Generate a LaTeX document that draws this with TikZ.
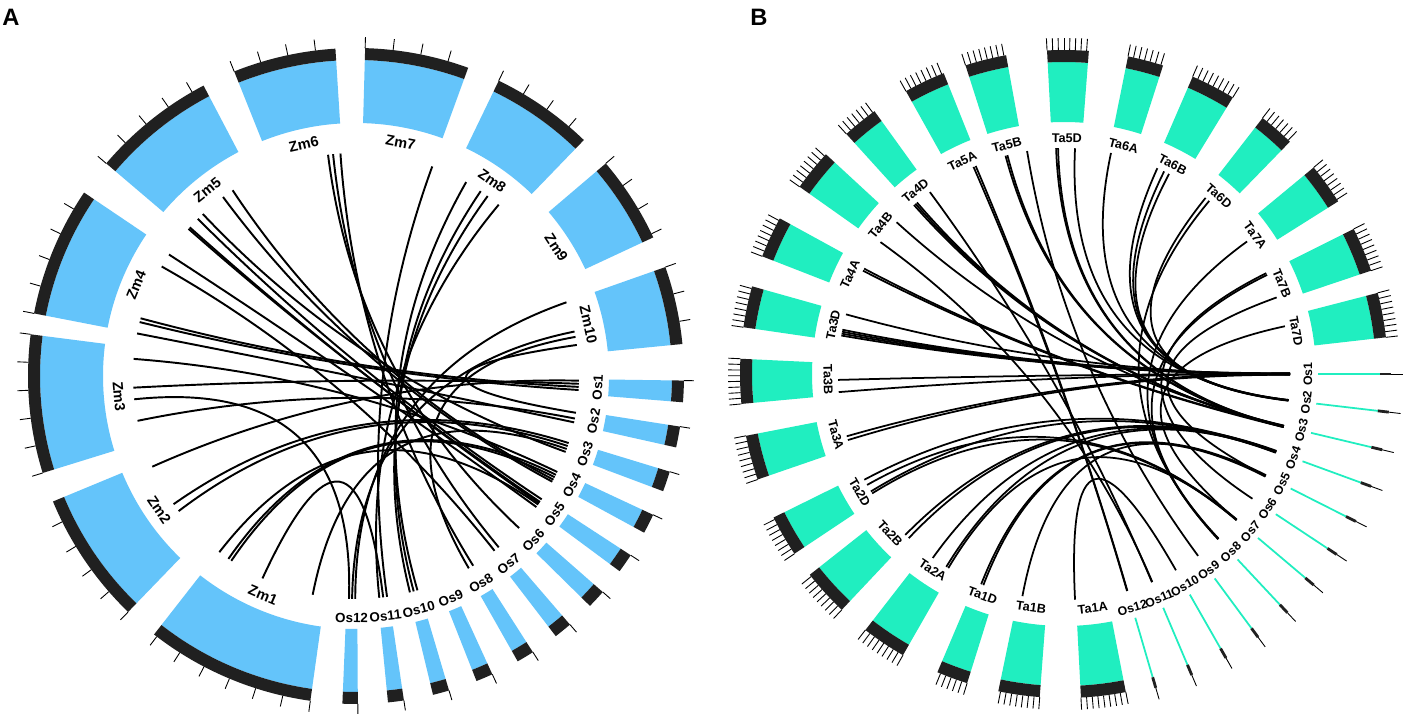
\documentclass[tikz,border=0pt]{standalone}
\usepackage{fontspec}
\setmainfont{Liberation Sans}
\definecolor{zmblue}{RGB}{100,196,250}
\definecolor{tagreen}{RGB}{32,238,192}
\definecolor{bandgray}{RGB}{32,32,32}
\begin{document}
\begin{tikzpicture}[x=0.02cm, y=0.02cm,
  link/.style={line width=1.1pt, black},
  tickline/.style={line width=0.5pt, black},
  zmlabel/.style={font=\fontsize{8.3}{9}\selectfont\bfseries, inner sep=0pt},
  talabel/.style={font=\fontsize{7.2}{9}\selectfont\bfseries, inner sep=0pt},
  oslabel/.style={font=\fontsize{7.6}{9}\selectfont\bfseries, inner sep=0pt},
  panel/.style={font=\fontsize{13.5}{15}\selectfont\bfseries, inner sep=0pt}]
\fill[white] (0,0) rectangle (1418,724);
\useasboundingbox (0,0) rectangle (1418,724);
\node[panel] (panelA) at (11,707) {A};
\node[panel] (panelB) at (759,707) {B};

\begin{scope}[shift={(356,348)}]
\foreach \n/\sa/\sb in {1/-128/-98, 2/-157.5/-134, 3/172.7/197.2, 4/146/169, 5/117.7/139.6,
                        6/93.6/111.8, 7/70/88.4, 8/46/64.2, 9/25/40.4, 10/5.6/19.4} {
  \fill[zmblue] (\sa:253) arc[start angle=\sa, end angle=\sb, radius=253]
    -- (\sb:316) arc[start angle=\sb, end angle=\sa, radius=316] -- cycle;
  \fill[bandgray] (\sa:316) arc[start angle=\sa, end angle=\sb, radius=316]
    -- (\sb:328) arc[start angle=\sb, end angle=\sa, radius=328] -- cycle;
  \pgfmathtruncatemacro\nt{(\sb-\sa)/4.9}
  \foreach \i in {0,...,\nt} \draw[tickline] ({\sb-4.9*\i}:328) -- ({\sb-4.9*\i}:339);
  \pgfmathsetmacro\sm{(\sa+\sb)/2}
  \pgfmathsetmacro\rot{ifthenelse(and(\sm>0,\sm<180),\sm-90,\sm+90)}
  \node[zmlabel, rotate=\rot] (zm\n) at (\sm:238) {Zm\n};
}
\foreach \k in {1,...,12} {
  \pgfmathsetmacro\sm{-2.7-8.03*(\k-1)}
  \pgfmathsetmacro\hw{1.9-0.05*(\k-1)}
  \pgfmathsetmacro\sa{\sm-\hw}
  \pgfmathsetmacro\sb{\sm+\hw}
  \fill[zmblue] (\sa:253) arc[start angle=\sa, end angle=\sb, radius=253]
    -- (\sb:316) arc[start angle=\sb, end angle=\sa, radius=316] -- cycle;
  \fill[bandgray] (\sa:316) arc[start angle=\sa, end angle=\sb, radius=316]
    -- (\sb:328) arc[start angle=\sb, end angle=\sa, radius=328] -- cycle;
  \draw[tickline] (\sb:328) -- (\sb:338);
  \pgfmathsetmacro\rot{\sm+90}
  \node[oslabel, rotate=\rot] (aos\k) at (\sm:242) {Os\k};
}
\foreach \s/\e in {-127.8/-35.2, -124.9/-26.3, -124/-27, -114.8/-83, -101.2/-19.1,
                   -156/-1.2, -144.9/-17.5, -142.7/-18.3,
                   175.6/-25.5, 183/-2, 186/-91.8, 191.6/-11,
                   147/-36, 150.6/-51.6, 165/-2.8, 166/-3.6, 169/-12,
                   123.6/-27.7, 126.6/-28.3, 133.4/-19.9, 135.2/-33.6, 138.7/-34.4, 138.2/-34.8,
                   97.2/-43, 95.9/-50.2, 94/-58.3,
                   70/-82,
                   60.4/-74, 56/-75, 53.8/-76, 50.2/-84,
                   19.3/-90.2, 11.5/-91, 10.1/-59.6, 8/-9.5}
  \draw[link] (\s:223) .. controls (\s:74) and (\e:74) .. (\e:223);
\end{scope}

\begin{scope}[shift={(1064,350)}]
\foreach \n/\sm/\hw in {7D/10.5/4, 7B/22.6/4, 7A/35.9/3.7, 6D/49/3.2, 6B/62.6/4, 6A/75.4/3.2,
                        5D/89.3/3.7, 5B/104/3.7, 5A/115.5/3.7, 4D/129/3.2, 4B/141/3.7, 4A/155/3.7,
                        3D/168/3.7, 3B/181.3/4, 3A/195/4, 2D/210/3.7, 2B/222.5/4.2, 2A/236.2/4,
                        1D/249.8/2.8, 1B/262/3.7, 1A/277/4} {
  \pgfmathsetmacro\sa{\sm-\hw}
  \pgfmathsetmacro\sb{\sm+\hw}
  \fill[tagreen] (\sa:252) arc[start angle=\sa, end angle=\sb, radius=252]
    -- (\sb:312) arc[start angle=\sb, end angle=\sa, radius=312] -- cycle;
  \fill[bandgray] (\sa:312) arc[start angle=\sa, end angle=\sb, radius=312]
    -- (\sb:324) arc[start angle=\sb, end angle=\sa, radius=324] -- cycle;
  \pgfmathtruncatemacro\nt{2*\hw}
  \foreach \i in {0,...,\nt} \draw[tickline] ({\sb-\i}:324) -- ({\sb-\i}:336);
  \pgfmathsetmacro\rot{ifthenelse(and(\sm>0,\sm<180),\sm-90,\sm+90)}
  \node[talabel, rotate=\rot] (ta\n) at (\sm:236) {Ta\n};
}
\foreach \k in {1,...,12} {
  \pgfmathsetmacro\sm{-6.7*(\k-1)}
  \draw[tagreen, line width=1pt] (\sm:254) -- (\sm:316);
  \draw[bandgray, line width=1.6pt] (\sm:316) -- (\sm:327);
  \draw[tickline] (\sm:327) -- (\sm:339);
  \pgfmathsetmacro\rot{\sm+90}
  \node[oslabel, font=\fontsize{7}{9}\selectfont\bfseries, rotate=\rot] (bos\k) at (\sm:244) {Os\k};
}
\foreach \s/\e in {272.8/-60.3, 259.4/-26.8, 248.5/-26.6, 249.1/-27,
                   234.5/-20, 238.6/-20.2, 239.2/-40.2, 225.4/-19.9, 226.6/-20.3,
                   207.9/-20.1, 209.4/-40.1, 211.3/-20.4, 211.9/-40.3,
                   196/0.2, 197/-0.2, 181.5/0, 184.6/0.1,
                   164.7/-0.1, 168.7/0, 169.2/0.2, 169.7/-0.2, 170.2/0.1,
                   152.2/-13.4, 152.8/-13.6, 137.8/-13.2, 144.3/-67,
                   130.6/-13.4, 131.1/-13.5, 131.6/-13.3, 126.4/-67.1,
                   113/-73.7, 113.6/-73.8, 105/-13.5, 104.5/-13.3, 99.4/-53.6,
                   91.5/-13.4, 92/-13.6, 87.2/-6.7, 78/-6.6,
                   65.6/-6.7, 63.7/-6.8, 62.3/-6.6, 51.2/-6.7, 50/-46.9,
                   35.9/-47, 26/-46.8, 26.5/-33.5, 19.8/-26.8, 12.2/-40.2}
  \draw[link, line width=1pt] (\s:226) .. controls (\s:75) and (\e:75) .. (\e:226);
\end{scope}
\end{tikzpicture}
\end{document}
